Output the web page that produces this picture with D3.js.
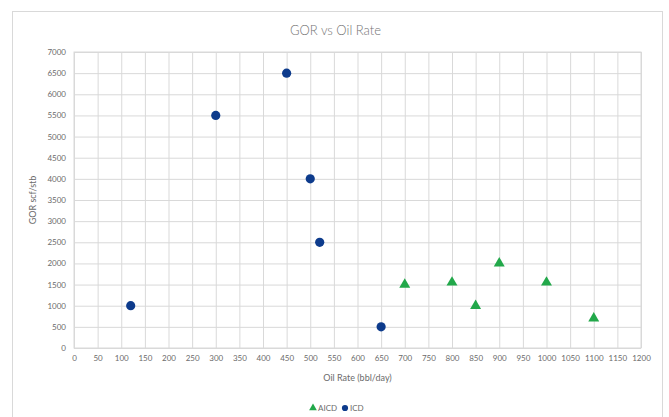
<!DOCTYPE html>
<html><head><meta charset="utf-8">
<script src="https://cdn.jsdelivr.net/npm/d3@7"></script>
<style>
html,body{margin:0;padding:0;background:#fff;}
svg{display:block;font-family:Lato,"Open Sans",sans-serif;}
</style></head>
<body><svg id="c" width="669" height="417"></svg>
<script>
const aicdRate = [700, 800, 850, 900, 1000, 1100];
const aicdGOR  = [1500, 1550, 1000, 2000, 1550, 700];
const icdRate  = [120, 300, 450, 500, 520, 650];
const icdGOR   = [1000, 5500, 6500, 4000, 2500, 500];
const xTicks = d3.range(0, 1201, 50);
const yTicks = d3.range(0, 7001, 500);
const title = "GOR vs Oil Rate";
const xTitle = "Oil Rate (bbl/day)";
const yTitle = "GOR scf/stb";
const seriesNames = ["AICD", "ICD"];

const svg = d3.select("#c");
const m = {l:74, t:52, r:641, b:348};
const x = d3.scaleLinear().domain([0,1200]).range([m.l, m.r]);
const y = d3.scaleLinear().domain([0,7000]).range([m.b, m.t]);

svg.append("rect").attr("x",12.5).attr("y",11.5).attr("width",650).attr("height",420)
  .attr("fill","#fff").attr("stroke","#d9d9d9");

const gx = svg.append("g").attr("transform",`translate(0,${m.b})`)
  .call(d3.axisBottom(x).tickValues(xTicks).tickSize(-(m.b-m.t)).tickFormat(d=>d).tickPadding(7));
const gy = svg.append("g").attr("transform",`translate(${m.l},0)`)
  .call(d3.axisLeft(y).tickValues(yTicks).tickSize(-(m.r-m.l)).tickFormat(d=>d).tickPadding(8));
[gx,gy].forEach(g=>{
  g.select(".domain").remove();
  g.selectAll(".tick line").attr("stroke","#d9d9d9").attr("stroke-width",1);
  g.selectAll(".tick text").attr("fill","#6b6b6b").attr("font-size","8px").attr("font-family","Lato,sans-serif");
});
svg.append("rect").attr("x",m.l).attr("y",m.t).attr("width",m.r-m.l).attr("height",m.b-m.t)
  .attr("fill","none").attr("stroke","#d9d9d9");

svg.append("text").attr("x",(m.l+m.r)/2 - 22).attr("y",35).attr("text-anchor","middle")
  .attr("fill","#737373").attr("font-size","13px").attr("font-weight",300).text(title);
svg.append("text").attr("x",(m.l+m.r)/2).attr("y",381).attr("text-anchor","middle")
  .attr("fill","#6b6b6b").attr("font-size","9px").text(xTitle);
svg.append("text").attr("transform",`translate(36,${(m.t+m.b)/2}) rotate(-90)`).attr("text-anchor","middle")
  .attr("fill","#6b6b6b").attr("font-size","9px").text(yTitle);

const green = "#22a84a", blue = "#0d3b8c";
const tri = d3.symbol().type(d3.symbolTriangle).size(52);
svg.append("g").selectAll("path").data(aicdRate).join("path")
  .attr("d",tri).attr("fill",green)
  .attr("transform",(d,i)=>`translate(${x(d)},${y(aicdGOR[i])})`);
svg.append("g").selectAll("circle").data(icdRate).join("circle")
  .attr("cx",d=>x(d)).attr("cy",(d,i)=>y(icdGOR[i])).attr("r",4.6).attr("fill",blue);

const lg = svg.append("g");
lg.append("path").attr("d",d3.symbol().type(d3.symbolTriangle).size(26)).attr("fill",green)
  .attr("transform","translate(313,408)");
lg.append("text").attr("x",318).attr("y",411).attr("font-size","8px").attr("fill","#6b6b6b").text(seriesNames[0]);
lg.append("circle").attr("cx",345).attr("cy",408).attr("r",3.1).attr("fill",blue);
lg.append("text").attr("x",350).attr("y",411).attr("font-size","8px").attr("fill","#6b6b6b").text(seriesNames[1]);
</script></body></html>
